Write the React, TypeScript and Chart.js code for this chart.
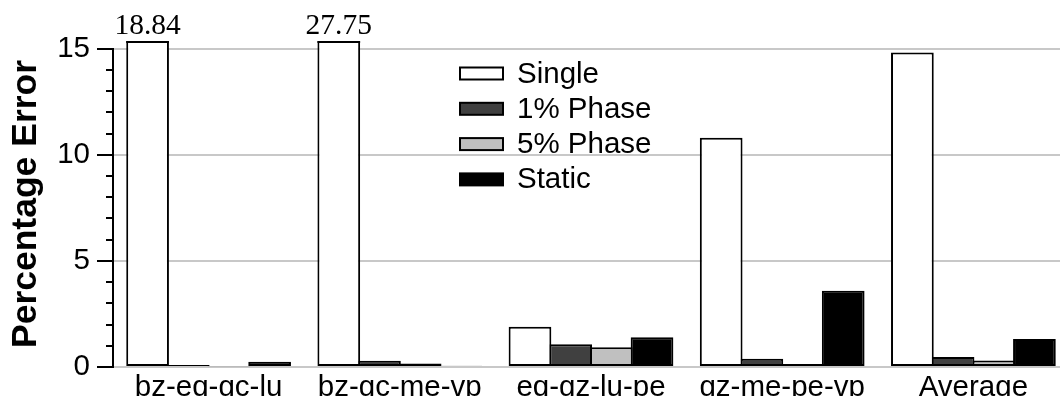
import { useEffect, useRef } from "react";
import { Chart, registerables } from "chart.js";

Chart.register(...registerables);

// Workload mixes on the x axis
const categories = ["bz-eq-gc-lu", "bz-gc-me-vp", "eq-gz-lu-pe", "gz-me-pe-vp", "Average"];

// Percentage error per prediction scheme
const singleErr = [18.84, 27.75, 1.9, 10.8, 14.82];
const phase1Err = [0.1, 0.3, 1.07, 0.39, 0.47];
const phase5Err = [0.03, 0.17, 0.93, 0.14, 0.31];
const staticErr = [0.25, 0.06, 1.4, 3.59, 1.32];

const seriesNames = ["Single", "1% Phase", "5% Phase", "Static"];
const seriesFills = ["#ffffff", "#404040", "#c0c0c0", "#000000"];

// Y axis: visible top, last labelled value, labelled every 5, small ticks every 1
const yMax = 15.36;
const yAxisTop = 15;
const yMajorStep = 5;
const yMinorStep = 1;

const SANS = '"Liberation Sans", Arial, Helvetica, sans-serif';
const SERIF = '"Liberation Serif", "Times New Roman", serif';
const TEXT_SIZE = 29.5;

// Y axis line (0..15) with long ticks at labelled values and short ones in between
const yAxisLine = {
  id: "yAxisLine",
  afterDraw(chart: any) {
    const y = chart.scales.y;
    const ctx = chart.ctx;
    const left = chart.chartArea.left;
    ctx.save();
    ctx.strokeStyle = "#000";
    ctx.lineWidth = 2;
    ctx.beginPath();
    ctx.moveTo(left, Math.round(y.getPixelForValue(0)) + 1);
    ctx.lineTo(left, Math.round(y.getPixelForValue(yAxisTop)) - 1);
    ctx.stroke();
    for (let v = 0; v <= yAxisTop; v += yMinorStep) {
      const py = Math.round(y.getPixelForValue(v));
      const len = v % yMajorStep === 0 ? 16 : 7;
      ctx.beginPath();
      ctx.moveTo(left - len, py);
      ctx.lineTo(left, py);
      ctx.stroke();
    }
    ctx.restore();
  },
};

// Bars taller than the axis are cut at the top; close them and print their value
const overflowLabels = {
  id: "overflowLabels",
  afterDatasetsDraw(chart: any) {
    const ctx = chart.ctx;
    const top = chart.chartArea.top;
    const max = chart.scales.y.max;
    ctx.save();
    chart.data.datasets.forEach((ds: any, di: number) => {
      const meta = chart.getDatasetMeta(di);
      meta.data.forEach((bar: any, i: number) => {
        const v = ds.data[i];
        if (v <= max) return;
        const half = bar.width / 2;
        ctx.strokeStyle = "#000";
        ctx.lineWidth = 2;
        ctx.beginPath();
        ctx.moveTo(bar.x - half, top + 1);
        ctx.lineTo(bar.x + half, top + 1);
        ctx.stroke();
        ctx.fillStyle = "#000";
        ctx.font = `${TEXT_SIZE}px ${SERIF}`;
        ctx.textAlign = "center";
        ctx.textBaseline = "alphabetic";
        ctx.fillText(v.toFixed(2), bar.x, top - 7);
      });
    });
    ctx.restore();
  },
};

// Legend drawn inside the plot area
const innerLegend = {
  id: "innerLegend",
  afterDraw(chart: any) {
    const ctx = chart.ctx;
    const boxX = 460;
    const boxW = 43;
    const boxH = 12;
    const firstRow = 73.5;
    const rowGap = 35.3;
    const textX = 517;
    ctx.save();
    chart.data.datasets.forEach((ds: any, i: number) => {
      const cy = firstRow + i * rowGap;
      ctx.fillStyle = ds.backgroundColor;
      ctx.fillRect(boxX, cy - boxH / 2, boxW, boxH);
      ctx.strokeStyle = "#000";
      ctx.lineWidth = 2;
      ctx.strokeRect(boxX, cy - boxH / 2, boxW, boxH);
      ctx.fillStyle = "#000";
      ctx.font = `${TEXT_SIZE}px ${SANS}`;
      ctx.textAlign = "left";
      ctx.textBaseline = "alphabetic";
      ctx.fillText(ds.label, textX, cy + 9);
    });
    ctx.restore();
  },
};

export default function App() {
  const canvasRef = useRef<HTMLCanvasElement>(null);

  useEffect(() => {
    const canvas = canvasRef.current;
    if (!canvas) return;
    const series = [singleErr, phase1Err, phase5Err, staticErr];
    const chart = new Chart(canvas, {
      type: "bar",
      data: {
        labels: categories,
        datasets: series.map((values, i) => ({
          label: seriesNames[i],
          data: values,
          backgroundColor: seriesFills[i],
          borderColor: "#000",
          borderWidth: 2,
          borderSkipped: false,
          barPercentage: 1.05,
          categoryPercentage: 0.851,
          clip: { left: false, right: false, top: 0, bottom: false },
        })) as any,
      },
      options: {
        responsive: false,
        animation: false,
        layout: { padding: { top: 41, left: 0, right: 0, bottom: 0 } },
        plugins: {
          legend: { display: false },
          tooltip: { enabled: false },
        },
        scales: {
          x: {
            grid: { display: false, drawTicks: false },
            border: { display: false },
            ticks: {
              color: "#000",
              font: { family: SANS, size: TEXT_SIZE },
              padding: 3,
              maxRotation: 0,
              autoSkip: false,
            },
            afterFit(scale: any) {
              scale.height = 29;
            },
          },
          y: {
            min: 0,
            max: yMax,
            grid: {
              drawTicks: true,
              tickLength: 23,
              tickColor: "rgba(0,0,0,0)",
              lineWidth: 2,
              color: (ctx: any) =>
                ctx.tick && ctx.tick.value % yMajorStep === 0 ? "#c8c8c8" : "rgba(0,0,0,0)",
            },
            border: { display: false },
            ticks: {
              stepSize: yMinorStep,
              includeBounds: false,
              autoSkip: false,
              color: "#000",
              font: { family: SANS, size: TEXT_SIZE },
              padding: 0,
              callback: (v: any) => (Number(v) % yMajorStep === 0 ? String(v) : ""),
            },
            title: {
              display: true,
              text: "Percentage Error",
              color: "#000",
              font: { family: SANS, size: 35.5, weight: "bold" },
              padding: { top: 5, bottom: 0 },
            },
            afterFit(scale: any) {
              scale.width = 113;
            },
          },
        },
      },
      plugins: [yAxisLine, overflowLabels, innerLegend],
    });
    return () => chart.destroy();
  }, []);

  return (
    <div
      style={{
        position: "fixed",
        left: 0,
        top: 0,
        width: 1060,
        height: 396,
        overflow: "hidden",
        background: "#fff",
      }}
    >
      <canvas ref={canvasRef} width={1069} height={396} style={{ display: "block" }} />
    </div>
  );
}
